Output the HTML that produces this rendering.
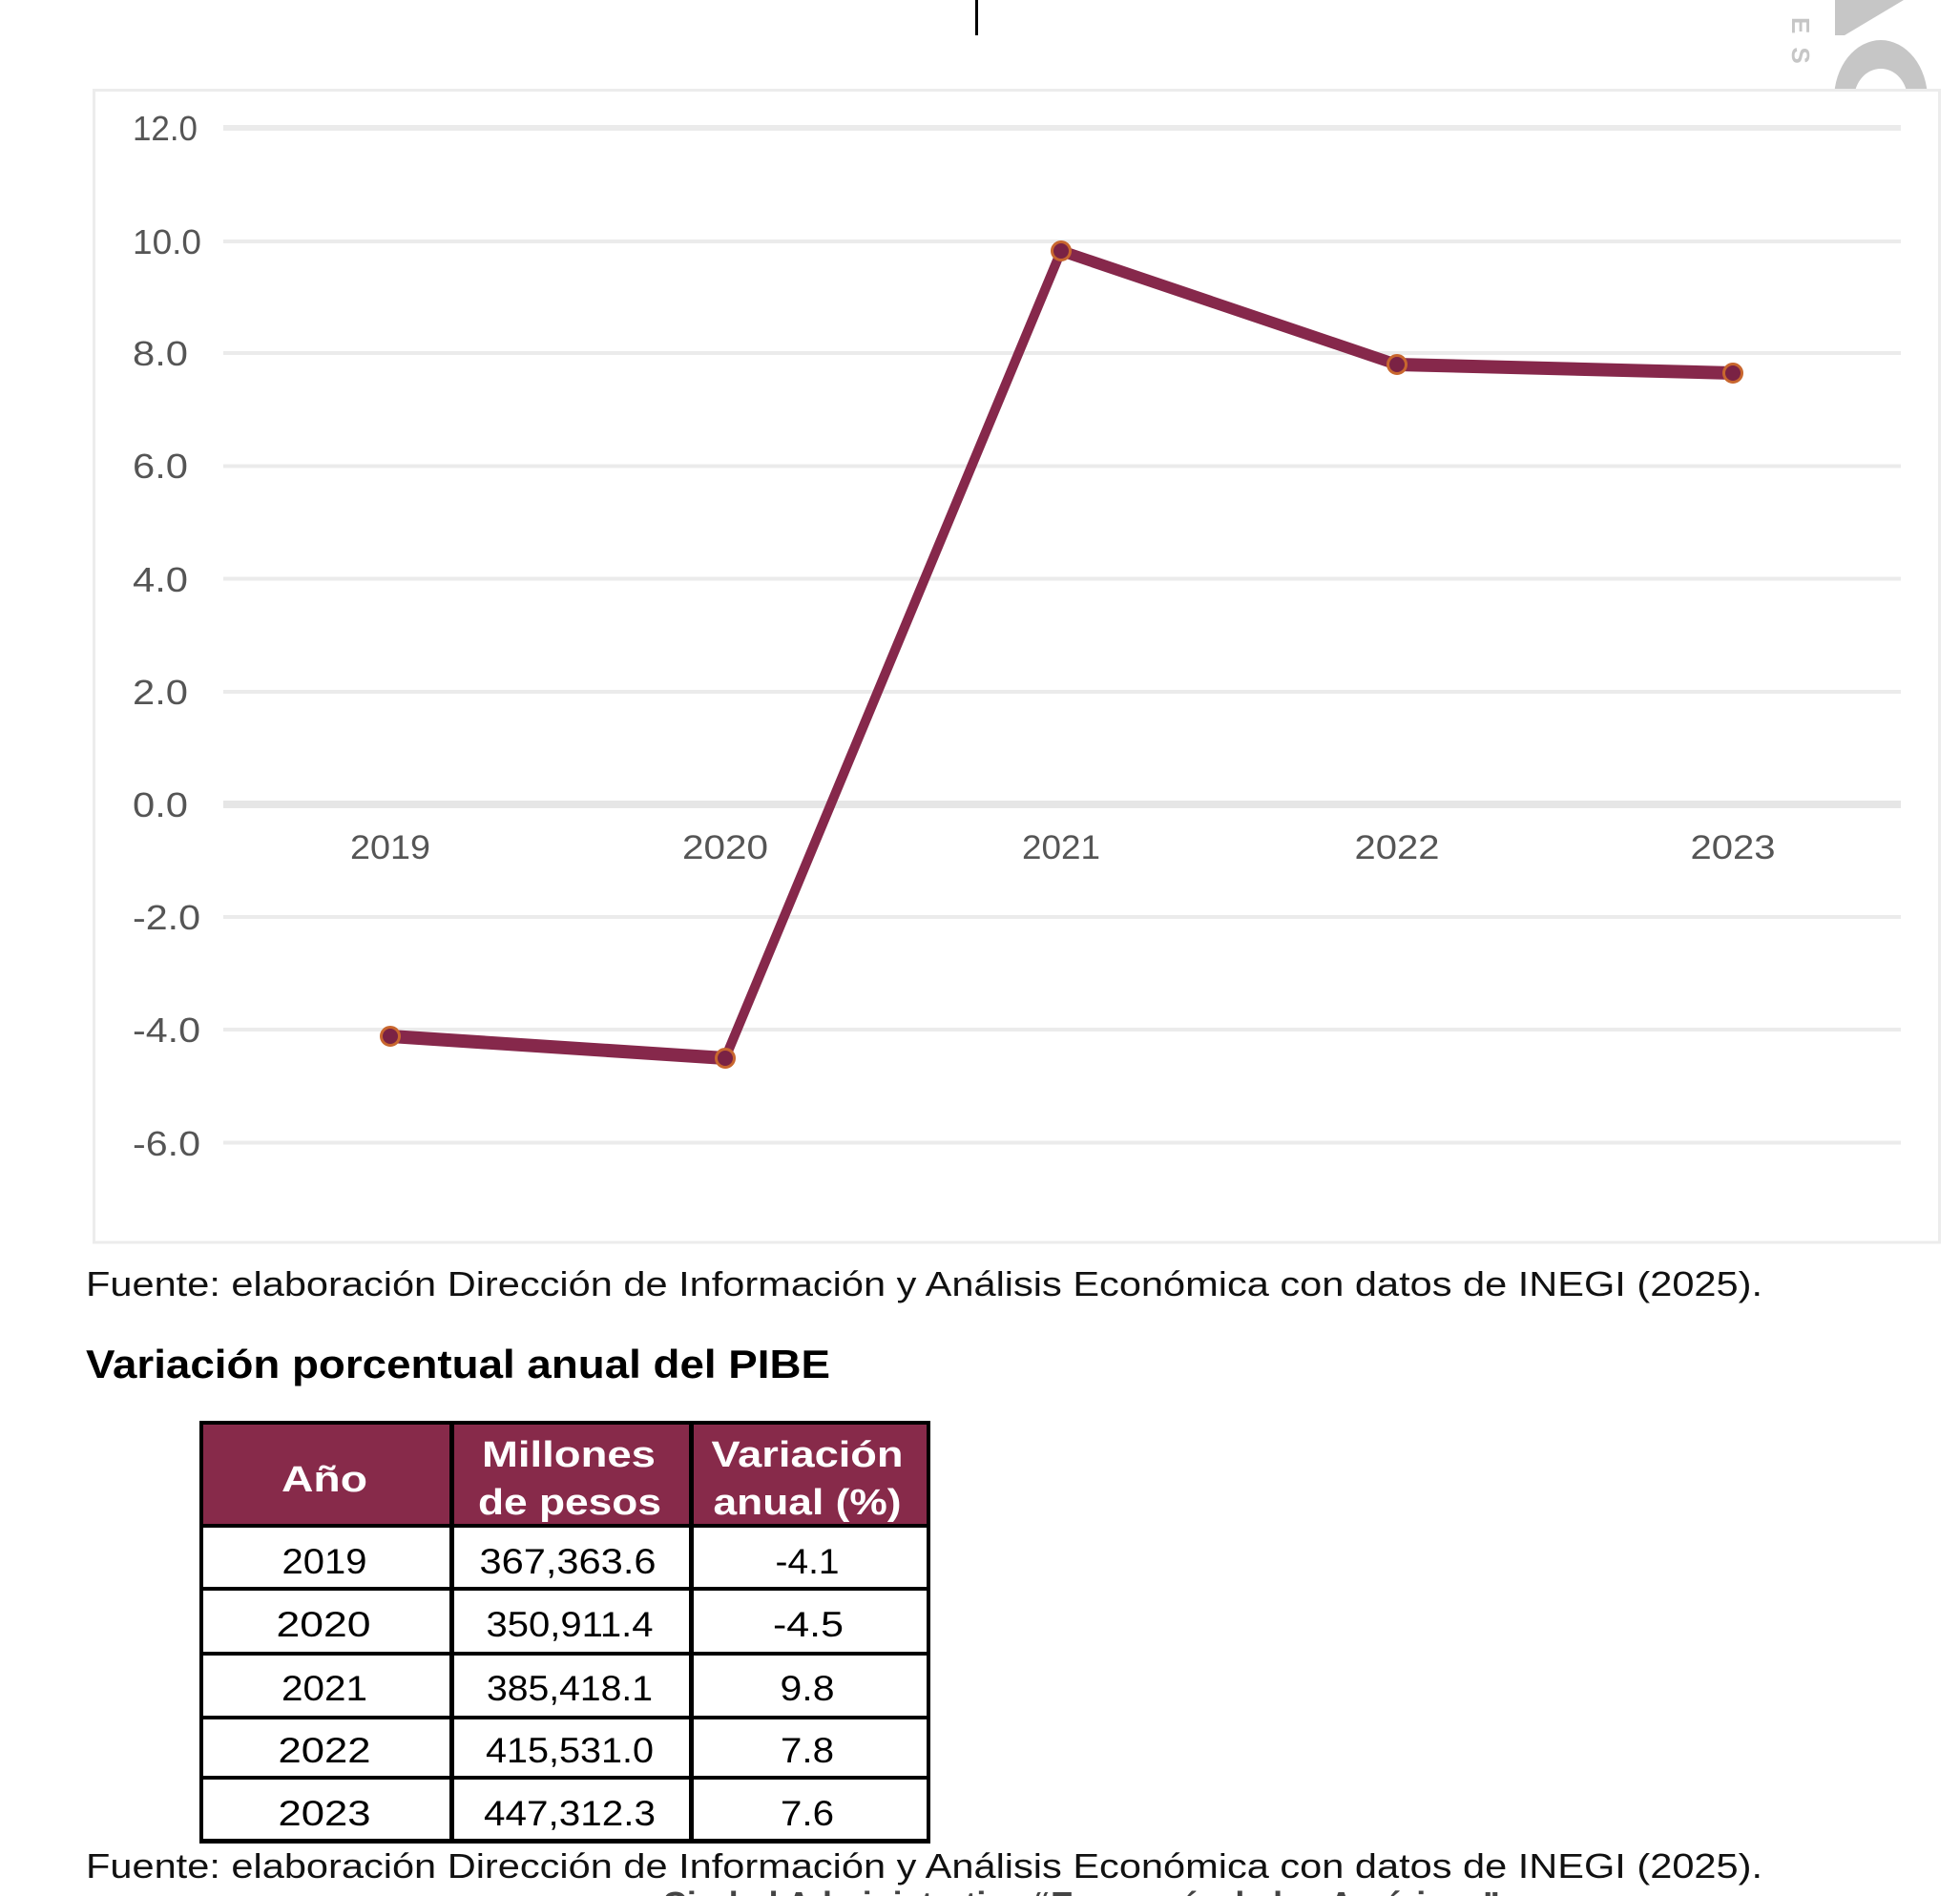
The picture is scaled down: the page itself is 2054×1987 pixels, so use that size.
<!DOCTYPE html>
<html>
<head>
<meta charset="utf-8">
<style>
  html, body { margin: 0; padding: 0; background: #fff; }
  body { width: 2054px; height: 1987px; overflow: hidden; }
  svg { display: block; }
  text { font-family: "Liberation Sans", Arial, sans-serif; }
</style>
</head>
<body>
<svg width="2054" height="1987" viewBox="0 0 2054 1987" xmlns="http://www.w3.org/2000/svg">
  <rect x="0" y="0" width="2054" height="1987" fill="#ffffff"/>

  <!-- top cursor-like line -->
  <rect x="1022" y="0" width="3" height="37" fill="#000"/>

  <!-- watermark logo (top right) -->
  <g fill="#c6c6c6">
    <text transform="translate(1878,18) rotate(90)" font-size="26" font-weight="bold" letter-spacing="14">ES</text>
    <polygon points="1923,0 1995,0 1933,37 1923,37"/>
    <path fill-rule="evenodd" d="M1922,104 A49,62 0 0 1 2020,104 L2020,130 L1922,130 Z M1943,104 A28,32 0 0 1 1999,104 L1999,130 L1943,130 Z"/>
  </g>

  <!-- chart frame -->
  <rect x="98.5" y="94.5" width="1934" height="1207.5" fill="#ffffff" stroke="#ececec" stroke-width="3"/>

  <!-- gridlines -->
  <g fill="#ebebeb">
    <rect x="234" y="131" width="1758" height="6"/>
    <rect x="234" y="251" width="1758" height="4"/>
    <rect x="234" y="368" width="1758" height="4"/>
    <rect x="234" y="486.5" width="1758" height="4"/>
    <rect x="234" y="604.5" width="1758" height="4"/>
    <rect x="234" y="723" width="1758" height="4"/>
    <rect x="234" y="839" width="1758" height="8" fill="#e6e6e6"/>
    <rect x="234" y="959" width="1758" height="4"/>
    <rect x="234" y="1077" width="1758" height="4"/>
    <rect x="234" y="1195.5" width="1758" height="4"/>
  </g>

  <!-- y axis labels -->
  <g fill="#555" font-size="36">
    <text x="139" y="147" textLength="68" lengthAdjust="spacingAndGlyphs">12.0</text>
    <text x="139" y="266" textLength="72" lengthAdjust="spacingAndGlyphs">10.0</text>
    <text x="139" y="383" textLength="58" lengthAdjust="spacingAndGlyphs">8.0</text>
    <text x="139" y="501" textLength="58" lengthAdjust="spacingAndGlyphs">6.0</text>
    <text x="139" y="620" textLength="58" lengthAdjust="spacingAndGlyphs">4.0</text>
    <text x="139" y="738" textLength="58" lengthAdjust="spacingAndGlyphs">2.0</text>
    <text x="139" y="856" textLength="58" lengthAdjust="spacingAndGlyphs">0.0</text>
    <text x="139" y="974" textLength="71" lengthAdjust="spacingAndGlyphs">-2.0</text>
    <text x="139" y="1092" textLength="71" lengthAdjust="spacingAndGlyphs">-4.0</text>
    <text x="139" y="1211" textLength="71" lengthAdjust="spacingAndGlyphs">-6.0</text>
  </g>

  <!-- x axis labels -->
  <g fill="#555" font-size="35" text-anchor="middle">
    <text x="409" y="900" textLength="84" lengthAdjust="spacingAndGlyphs">2019</text>
    <text x="760" y="900" textLength="90" lengthAdjust="spacingAndGlyphs">2020</text>
    <text x="1112" y="900" textLength="82" lengthAdjust="spacingAndGlyphs">2021</text>
    <text x="1464" y="900" textLength="89" lengthAdjust="spacingAndGlyphs">2022</text>
    <text x="1816" y="900" textLength="89" lengthAdjust="spacingAndGlyphs">2023</text>
  </g>

  <!-- data line -->
  <g fill="none" stroke="#86284b" stroke-linecap="round">
    <line x1="409" y1="1086" x2="760" y2="1109" stroke-width="14"/>
    <line x1="760" y1="1109" x2="1112" y2="263" stroke-width="10"/>
    <line x1="1112" y1="263" x2="1464" y2="382" stroke-width="12"/>
    <line x1="1464" y1="382" x2="1816" y2="391" stroke-width="14"/>
  </g>
  <g fill="#7a2244" stroke="#c8662e" stroke-width="3">
    <circle cx="409" cy="1086" r="9.5"/>
    <circle cx="760" cy="1109" r="9.5"/>
    <circle cx="1112" cy="263" r="9.5"/>
    <circle cx="1464" cy="382" r="9.5"/>
    <circle cx="1816" cy="391" r="9.5"/>
  </g>

  <!-- footnote 1 -->
  <text x="90" y="1358" font-size="36" fill="#111" textLength="1757" lengthAdjust="spacingAndGlyphs">Fuente: elaboración Dirección de Información y Análisis Económica con datos de INEGI (2025).</text>

  <!-- title -->
  <text x="90" y="1444" font-size="42" font-weight="bold" fill="#000" textLength="780" lengthAdjust="spacingAndGlyphs">Variación porcentual anual del PIBE</text>

  <!-- table -->
  <rect x="211" y="1491" width="762" height="108" fill="#872a4a"/>
  <g fill="#000">
    <rect x="209" y="1489" width="766" height="4"/>
    <rect x="209" y="1597" width="766" height="4"/>
    <rect x="209" y="1663" width="766" height="4"/>
    <rect x="209" y="1731" width="766" height="4"/>
    <rect x="209" y="1798" width="766" height="4"/>
    <rect x="209" y="1861" width="766" height="4"/>
    <rect x="209" y="1927" width="766" height="5"/>
    <rect x="209" y="1489" width="4" height="443"/>
    <rect x="471" y="1489" width="5" height="443"/>
    <rect x="722" y="1489" width="5" height="443"/>
    <rect x="971" y="1489" width="4" height="443"/>
  </g>

  <!-- header text -->
  <g fill="#ffffff" font-size="38" font-weight="bold" text-anchor="middle">
    <text x="340" y="1563" textLength="90" lengthAdjust="spacingAndGlyphs">Año</text>
    <text x="596" y="1537" textLength="182" lengthAdjust="spacingAndGlyphs">Millones</text>
    <text x="597" y="1587" textLength="192" lengthAdjust="spacingAndGlyphs">de pesos</text>
    <text x="846" y="1537" textLength="201" lengthAdjust="spacingAndGlyphs">Variación</text>
    <text x="846" y="1587" textLength="197" lengthAdjust="spacingAndGlyphs">anual (%)</text>
  </g>

  <!-- body text -->
  <g fill="#000" font-size="37" text-anchor="middle">
    <text x="340" y="1649" textLength="89" lengthAdjust="spacingAndGlyphs">2019</text>
    <text x="595" y="1649" textLength="185" lengthAdjust="spacingAndGlyphs">367,363.6</text>
    <text x="846" y="1649" textLength="67" lengthAdjust="spacingAndGlyphs">-4.1</text>

    <text x="339" y="1715" textLength="99" lengthAdjust="spacingAndGlyphs">2020</text>
    <text x="597" y="1715" textLength="175" lengthAdjust="spacingAndGlyphs">350,911.4</text>
    <text x="847" y="1715" textLength="74" lengthAdjust="spacingAndGlyphs">-4.5</text>

    <text x="340" y="1782" textLength="90" lengthAdjust="spacingAndGlyphs">2021</text>
    <text x="597" y="1782" textLength="174" lengthAdjust="spacingAndGlyphs">385,418.1</text>
    <text x="846" y="1782" textLength="57" lengthAdjust="spacingAndGlyphs">9.8</text>

    <text x="340" y="1847" textLength="97" lengthAdjust="spacingAndGlyphs">2022</text>
    <text x="597" y="1847" textLength="176" lengthAdjust="spacingAndGlyphs">415,531.0</text>
    <text x="846" y="1847" textLength="56" lengthAdjust="spacingAndGlyphs">7.8</text>

    <text x="340" y="1913" textLength="97" lengthAdjust="spacingAndGlyphs">2023</text>
    <text x="597" y="1913" textLength="180" lengthAdjust="spacingAndGlyphs">447,312.3</text>
    <text x="846" y="1913" textLength="56" lengthAdjust="spacingAndGlyphs">7.6</text>
  </g>

  <!-- footnote 2 -->
  <text x="90" y="1968" font-size="36" fill="#111" textLength="1757" lengthAdjust="spacingAndGlyphs">Fuente: elaboración Dirección de Información y Análisis Económica con datos de INEGI (2025).</text>

  <!-- cut-off text at bottom edge -->
  <text x="694" y="2008" font-size="36" font-weight="bold" fill="#444" textLength="878" lengthAdjust="spacingAndGlyphs">Ciudad Administrativa “Economía de las Américas”</text>
</svg>
</body>
</html>
